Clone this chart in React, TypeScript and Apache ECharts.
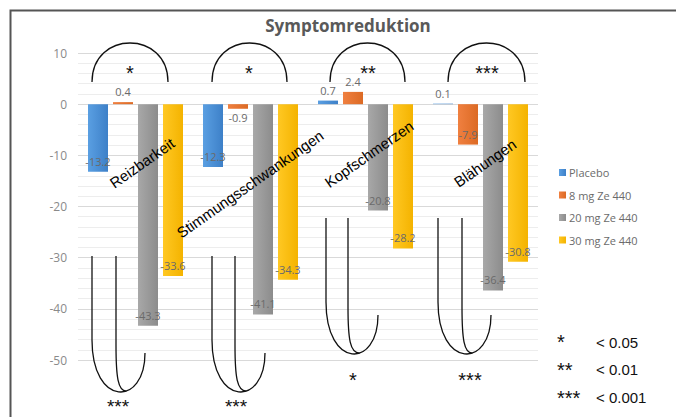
import React, { useEffect, useRef } from "react";
import * as echarts from "echarts";

const categories = ["Reizbarkeit", "Stimmungsschwankungen", "Kopfschmerzen", "Blähungen"];
const seriesNames = ["Placebo", "8 mg Ze 440", "20 mg Ze 440", "30 mg Ze 440"];
const placebo = [-13.2, -12.3, 0.7, 0.1];
const mg8 = [0.4, -0.9, 2.4, -7.9];
const mg20 = [-43.3, -41.1, -20.8, -36.4];
const mg30 = [-33.6, -34.3, -28.2, -30.8];
const yMin = -50;
const yMax = 10;
const yInterval = 10;
const topStars = ["*", "*", "**", "***"];
const bottomStars = ["***", "***", "*", "***"];
const sigLevels = ["*", "**", "***"];
const sigValues = ["< 0.05", "< 0.01", "< 0.001"];

const seriesValues = [placebo, mg8, mg20, mg30];
const colors = [
  ["#5a9fe2", "#3d80c8"],
  ["#f08040", "#dc6a24"],
  ["#a8a8a8", "#8c8c8c"],
  ["#ffc823", "#f4b300"],
];

// annotation layout (pixels)
const topArcs = [
  [92, 168],
  [212, 287],
  [330, 405],
  [448, 525],
];
const topStarX = [130, 249, 368, 487];
const bottomShapes = [
  { xl: 92, xi: 116, xr: 145, yt: 256, yr: 353, yb: 392 },
  { xl: 212, xi: 235, xr: 265, yt: 256, yr: 353, yb: 392 },
  { xl: 326, xi: 348, xr: 378, yt: 218, yr: 315, yb: 354 },
  { xl: 438, xi: 462, xr: 491, yt: 218, yr: 315, yb: 354 },
];
const bottomStarPos = [
  [118, 408],
  [236, 408],
  [353, 374],
  [470, 374],
];
const catLabelPos = [
  [142, 163],
  [250, 184],
  [369, 154],
  [485, 163],
];

const labelFor = (v: number) => {
  if (v >= 0) return { position: "top", distance: 5 };
  if (v > -3) return { position: "bottom", distance: 3 };
  return { position: "insideBottom", distance: 5 };
};

const ls = () => ({ stroke: "#111", lineWidth: 1.3, fill: "none" });

const starStyle = (text: string, align: string) => ({
  text,
  fontSize: 20,
  lineHeight: 6,
  fontFamily: "Liberation Sans",
  fill: "#111",
  align,
  verticalAlign: "middle",
});

function buildGraphics() {
  const g: any[] = [];
  g.push({
    type: "rect",
    z: 100,
    shape: { x: 10.5, y: 10.5, width: 720, height: 500 },
    style: { stroke: "#555", lineWidth: 2, fill: "none" },
    silent: true,
  });
  topArcs.forEach(([x1, x2], i) => {
    g.push({
      type: "bezierCurve",
      z: 100,
      shape: { x1, y1: 82, x2, y2: 82, cpx1: x1, cpy1: 30, cpx2: x2, cpy2: 30 },
      style: ls(),
    });
    g.push({
      type: "text",
      z: 100,
      x: topStarX[i],
      y: 73,
      style: starStyle(topStars[i], "center"),
    });
  });
  bottomShapes.forEach((s, i) => {
    const yv = s.yr - 13;
    const cy = s.yb + 15;
    g.push({ type: "line", z: 100, shape: { x1: s.xl, y1: s.yt, x2: s.xl, y2: yv }, style: ls() });
    g.push({
      type: "bezierCurve",
      z: 100,
      shape: { x1: s.xl, y1: yv, cpx1: s.xl, cpy1: cy, cpx2: s.xr, cpy2: cy, x2: s.xr, y2: s.yr },
      style: ls(),
    });
    const t = 0.6;
    const b = (a: number, c1: number, c2: number, d: number) =>
      (1 - t) ** 3 * a + 3 * (1 - t) ** 2 * t * c1 + 3 * (1 - t) * t * t * c2 + t ** 3 * d;
    const jx = b(s.xl, s.xl, s.xr, s.xr);
    const jy = b(yv, cy, cy, s.yr);
    const yi = s.yr - 8;
    g.push({ type: "line", z: 100, shape: { x1: s.xi, y1: s.yt, x2: s.xi, y2: yi }, style: ls() });
    g.push({
      type: "bezierCurve",
      z: 100,
      shape: { x1: s.xi, y1: yi, cpx1: s.xi, cpy1: jy - 14, cpx2: s.xi + 2, cpy2: jy, x2: jx, y2: jy },
      style: ls(),
    });
    const nearEdge = bottomStarPos[i][1] > 400;
    g.push({
      type: "text",
      z: 100,
      x: bottomStarPos[i][0],
      y: nearEdge ? 416 : bottomStarPos[i][1] + 6,
      style: nearEdge
        ? {
            text: bottomStars[i],
            fontSize: 19,
            fontFamily: "Liberation Sans",
            fill: "#111",
            align: "center",
            verticalAlign: "bottom",
          }
        : starStyle(bottomStars[i], "center"),
    });
  });
  categories.forEach((c, i) => {
    g.push({
      type: "text",
      z: 100,
      x: catLabelPos[i][0],
      y: catLabelPos[i][1],
      rotation: (35 * Math.PI) / 180,
      style: {
        text: c,
        fontSize: 15,
        fontFamily: "Liberation Sans",
        fill: "#000",
        align: "center",
        verticalAlign: "middle",
      },
    });
  });
  sigLevels.forEach((s, i) => {
    g.push({
      type: "text",
      z: 100,
      x: 557,
      y: 342 + i * 28,
      style: starStyle(s, "left"),
    });
    g.push({
      type: "text",
      z: 100,
      x: 596,
      y: 342 + i * 27.5,
      style: { text: sigValues[i], fontSize: 15, fontFamily: "Liberation Sans", fill: "#111", align: "left", verticalAlign: "middle" },
    });
  });
  return g;
}

export default function App() {
  const ref = useRef<HTMLDivElement>(null);
  useEffect(() => {
    if (!ref.current) return;
    const chart = echarts.init(ref.current, null, { renderer: "svg" });
    chart.setOption({
      animation: false,
      backgroundColor: "#fff",
      title: {
        text: "Symptomreduktion",
        left: 343,
        textAlign: "center",
        top: 12,
        textStyle: { fontFamily: "Open Sans", fontWeight: "bold", fontSize: 17, color: "#595959" },
      },
      legend: {
        orient: "vertical",
        left: 554,
        top: 162,
        itemWidth: 7,
        itemHeight: 7,
        itemGap: 11.5,
        icon: "rect",
        data: seriesNames,
        textStyle: { fontFamily: "Open Sans", fontSize: 11, color: "#6b6b6b", padding: [0, 0, 0, -2] },
      },
      grid: { left: 78, right: 138, top: 53, bottom: 57, containLabel: false },
      xAxis: {
        type: "category",
        data: categories,
        axisLine: { show: false },
        axisTick: { show: false },
        axisLabel: { show: false },
      },
      yAxis: {
        type: "value",
        min: yMin,
        max: yMax,
        interval: yInterval,
        axisLine: { show: false },
        axisTick: { show: false },
        axisLabel: { fontFamily: "Open Sans", fontSize: 12, color: "#8a8a8a", margin: 11 },
        splitLine: { lineStyle: { color: "#d9d9d9", width: 1 } },
        minorTick: { show: false, splitNumber: 5 },
        minorSplitLine: { show: true, lineStyle: { color: "#ededed", width: 1 } },
      },
      series: seriesValues.map((vals, i) => ({
        name: seriesNames[i],
        type: "bar",
        barWidth: 20,
        barGap: "25%",
        itemStyle: {
          color: new echarts.graphic.LinearGradient(0, 0, 1, 0, [
            { offset: 0, color: colors[i][0] },
            { offset: 1, color: colors[i][1] },
          ]),
        },
        label: {
          show: true,
          color: "#6a6a6a",
          fontFamily: "Open Sans",
          fontSize: 11,
        },
        data: vals.map((v) => ({ value: v, label: labelFor(v) })),
      })),
      color: colors.map((c) => c[0]),
      graphic: buildGraphics(),
    });
    return () => chart.dispose();
  }, []);
  return (
    <div
      ref={ref}
      style={{ position: "fixed", left: 0, top: 0, width: 676, height: 417 }}
    />
  );
}
